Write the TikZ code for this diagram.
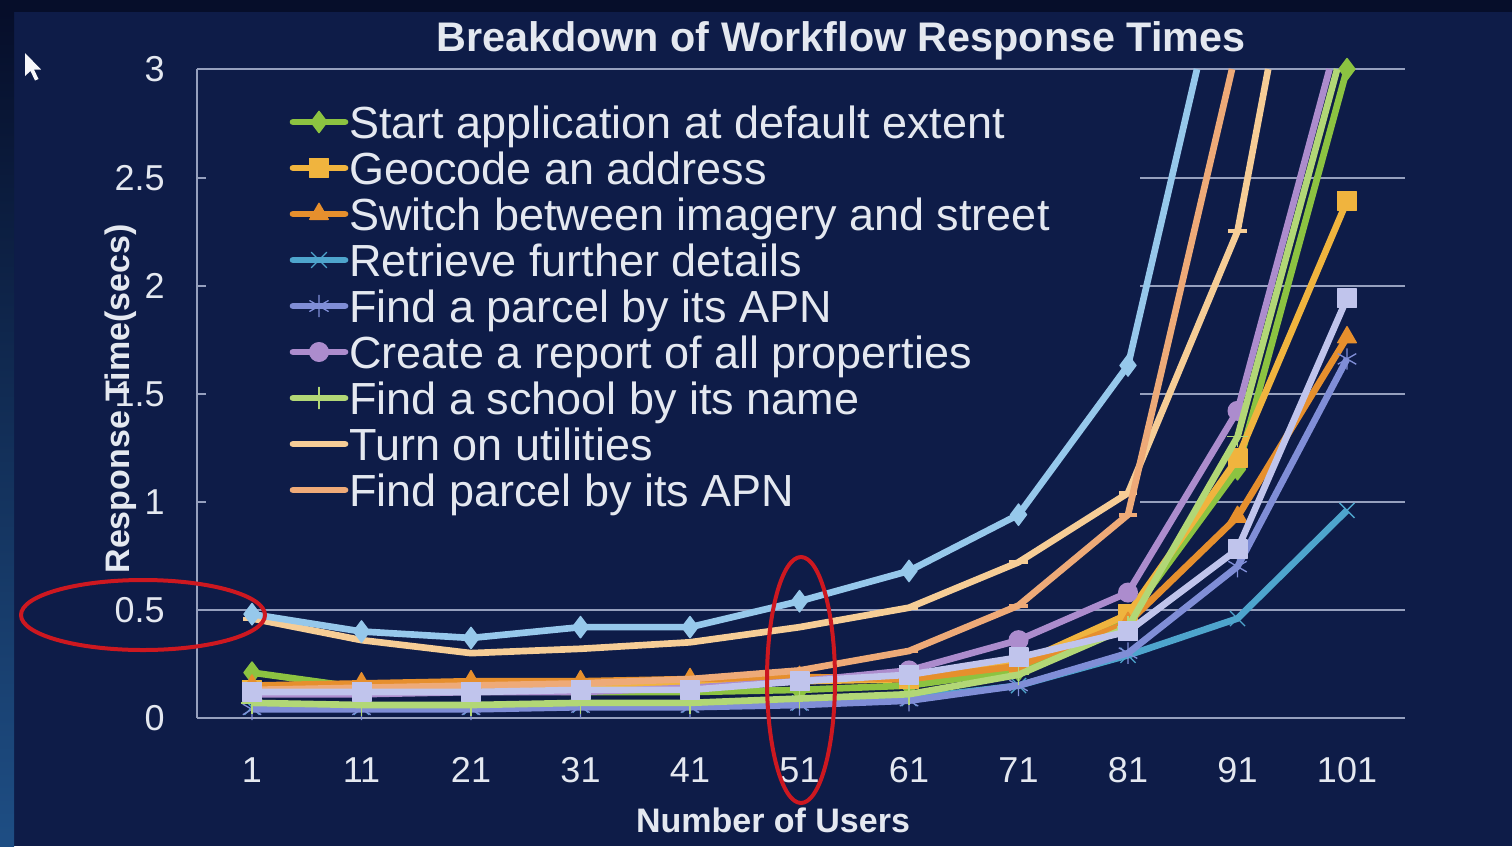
\documentclass[tikz,border=0pt]{standalone}
\usepackage{fontspec}
\setmainfont{Liberation Sans}
\usepackage{xcolor}
\usetikzlibrary{plotmarks}

\definecolor{slideBg}{RGB}{14,28,72}
\definecolor{slideTop}{RGB}{6,14,42}
\definecolor{slideEdge}{RGB}{30,78,132}
\definecolor{gridGrey}{RGB}{150,160,190}
\definecolor{labelWhite}{RGB}{228,232,240}
\definecolor{ringRed}{RGB}{205,24,32}
\definecolor{cStart}{RGB}{140,195,65}
\definecolor{cGeocode}{RGB}{240,180,62}
\definecolor{cSwitch}{RGB}{230,143,45}
\definecolor{cRetrieve}{RGB}{78,165,205}
\definecolor{cParcel}{RGB}{128,142,215}
\definecolor{cReport}{RGB}{172,140,205}
\definecolor{cSchool}{RGB}{178,215,118}
\definecolor{cUtil}{RGB}{246,205,150}
\definecolor{cApn}{RGB}{238,170,120}
\definecolor{cExtraA}{RGB}{150,200,235}
\definecolor{cExtraB}{RGB}{192,196,236}

\begin{document}
\begin{tikzpicture}[x=0.75pt,y=0.75pt,yscale=-1,
  gridline/.style={draw=gridGrey,line width=1.2pt},
  ticklabel/.style={text=labelWhite,font=\fontsize{27}{30}\selectfont,inner sep=0pt},
  axistitle/.style={text=labelWhite,font=\bfseries\fontsize{25.5}{28}\selectfont,inner sep=0pt},
  keytext/.style={text=labelWhite,font=\fontsize{33.75}{38}\selectfont,anchor=base west,inner sep=0pt},
  series/.style={line width=5pt,line join=round},
  lnStart/.style={series,draw=cStart,mark=diamond*,mark size=8pt,mark options={solid,line width=1pt,draw=cStart,fill=cStart}},
  lnGeocode/.style={series,draw=cGeocode,mark=square*,mark size=7pt,mark options={solid,line width=1pt,draw=cGeocode,fill=cGeocode}},
  lnSwitch/.style={series,draw=cSwitch,mark=triangle*,mark size=8pt,mark options={solid,yscale=-1,line width=1pt,draw=cSwitch,fill=cSwitch}},
  lnRetrieve/.style={series,draw=cRetrieve,mark=x,mark size=8pt,mark options={solid,line width=1pt,draw=cRetrieve}},
  lnParcel/.style={series,draw=cParcel,mark=asterisk,mark size=8pt,mark options={solid,line width=1pt,draw=cParcel}},
  lnReport/.style={series,draw=cReport,mark=*,mark size=7pt,mark options={solid,line width=1pt,draw=cReport,fill=cReport}},
  lnSchool/.style={series,draw=cSchool,mark=+,mark size=8pt,mark options={solid,line width=1pt,draw=cSchool}},
  lnUtil/.style={series,draw=cUtil,mark=-,mark size=7pt,mark options={solid,line width=3pt,draw=cUtil}},
  lnApn/.style={series,draw=cApn,mark=-,mark size=7pt,mark options={solid,line width=3pt,draw=cApn}},
  lnExtraA/.style={series,draw=cExtraA,mark=diamond*,mark size=8pt,mark options={solid,line width=1pt,draw=cExtraA,fill=cExtraA}},
  lnExtraB/.style={series,draw=cExtraB,mark=square*,mark size=7pt,mark options={solid,line width=1pt,draw=cExtraB,fill=cExtraB}},
  keyline/.style={line cap=round},
  ring/.style={draw=ringRed,line width=3pt}]
\useasboundingbox (0,0) rectangle (1512,846);

%Shape: Rectangle [slide background]
\fill[slideBg] (0,0) rectangle (1512,846);
\shade[top color=slideTop,bottom color=slideEdge] (0,12) rectangle (14,846);
\fill[slideTop] (0,0) rectangle (1512,12);

%Shape: Grid [horizontal lines and axis]
\draw[gridline] (197,69) -- (1405,69)(197,178) -- (1405,178)(197,286) -- (1405,286)(197,394) -- (1405,394)(197,502) -- (1405,502)(197,610) -- (1405,610)(197,718) -- (1405,718) ;
\draw[gridline] (197,69) -- (197,718) ;

%Shape: Rectangle [legend background]
\fill[slideBg] (206,84) rectangle (1140,512);

%Data lines
\begin{scope}[shift={(252,718)},x=82.125pt,y=-162.225pt]
\draw[lnStart] plot coordinates {(0,0.21) (1,0.14) (2,0.13) (3,0.12) (4,0.12) (5,0.13) (6,0.15) (7,0.22) (8,0.46) (9,1.15) (10,3.00)};
\draw[lnGeocode] plot coordinates {(0,0.13) (1,0.13) (2,0.14) (3,0.14) (4,0.15) (5,0.17) (6,0.18) (7,0.25) (8,0.48) (9,1.20) (10,2.39)};
\draw[lnSwitch] plot coordinates {(0,0.15) (1,0.16) (2,0.17) (3,0.17) (4,0.18) (5,0.19) (6,0.18) (7,0.24) (8,0.44) (9,0.93) (10,1.76)};
\draw[lnRetrieve] plot coordinates {(0,0.05) (1,0.05) (2,0.05) (3,0.06) (4,0.06) (5,0.07) (6,0.09) (7,0.15) (8,0.29) (9,0.46) (10,0.96)};
\draw[lnParcel] plot coordinates {(0,0.04) (1,0.04) (2,0.04) (3,0.05) (4,0.05) (5,0.06) (6,0.08) (7,0.15) (8,0.30) (9,0.70) (10,1.66)};
\draw[lnReport,mark indices={1,...,10}] plot coordinates {(0,0.11) (1,0.11) (2,0.12) (3,0.12) (4,0.14) (5,0.17) (6,0.22) (7,0.36) (8,0.58) (9,1.42) (9.84,3.00)};
\draw[lnSchool,mark indices={1,...,10}] plot coordinates {(0,0.07) (1,0.06) (2,0.06) (3,0.07) (4,0.07) (5,0.09) (6,0.11) (7,0.20) (8,0.42) (9,1.30) (9.91,3.00)};
\draw[lnUtil,mark indices={1,...,10}] plot coordinates {(0,0.46) (1,0.36) (2,0.30) (3,0.32) (4,0.35) (5,0.42) (6,0.51) (7,0.72) (8,1.04) (9,2.25) (9.28,3.00)};
\draw[lnApn,mark indices={1,...,9}] plot coordinates {(0,0.13) (1,0.14) (2,0.15) (3,0.16) (4,0.18) (5,0.22) (6,0.31) (7,0.52) (8,0.94) (8.95,3.00)};
\draw[lnExtraA,mark indices={1,...,9}] plot coordinates {(0,0.48) (1,0.40) (2,0.37) (3,0.42) (4,0.42) (5,0.54) (6,0.68) (7,0.94) (8,1.63) (8.63,3.00)};
\draw[lnExtraB] plot coordinates {(0,0.12) (1,0.12) (2,0.12) (3,0.13) (4,0.13) (5,0.17) (6,0.20) (7,0.28) (8,0.40) (9,0.78) (10,1.94)};
\end{scope}

%Legend samples
\draw[lnStart,keyline,mark indices={2}] plot coordinates {(293,122) (319,122) (345,122)};
\draw[lnGeocode,keyline,mark indices={2}] plot coordinates {(293,168) (319,168) (345,168)};
\draw[lnSwitch,keyline,mark indices={2}] plot coordinates {(293,214) (319,214) (345,214)};
\draw[lnRetrieve,keyline,mark indices={2}] plot coordinates {(293,260) (319,260) (345,260)};
\draw[lnParcel,keyline,mark indices={2}] plot coordinates {(293,306) (319,306) (345,306)};
\draw[lnReport,keyline,mark indices={2}] plot coordinates {(293,352) (319,352) (345,352)};
\draw[lnSchool,keyline,mark indices={2}] plot coordinates {(293,398) (319,398) (345,398)};
\draw[lnUtil,keyline,mark indices={2}] plot coordinates {(293,444) (319,444) (345,444)};
\draw[lnApn,keyline,mark indices={2}] plot coordinates {(293,490) (319,490) (345,490)};

% Text Node
\node[keytext] (keyStart) at (349,138) {Start application at default extent};
\node[keytext] (keyGeocode) at (349,184) {Geocode an address};
\node[keytext] (keySwitch) at (349,230) {Switch between imagery and street};
\node[keytext] (keyRetrieve) at (349,276) {Retrieve further details};
\node[keytext] (keyParcel) at (349,322) {Find a parcel by its APN};
\node[keytext] (keyReport) at (349,368) {Create a report of all properties};
\node[keytext] (keySchool) at (349,414) {Find a school by its name};
\node[keytext] (keyUtil) at (349,460) {Turn on utilities};
\node[keytext] (keyApn) at (349,506) {Find parcel by its APN};

% Text Node
\node[text=labelWhite,font=\bfseries\fontsize{31}{34}\selectfont,inner sep=0pt] (title) at (841,41) {Breakdown of Workflow Response Times};

% Text Node
\node[ticklabel,anchor=east] (yt30) at (165,69) {3};
\node[ticklabel,anchor=east] (yt25) at (165,178) {2.5};
\node[ticklabel,anchor=east] (yt20) at (165,286) {2};
\node[ticklabel,anchor=east] (yt15) at (165,394) {1.5};
\node[ticklabel,anchor=east] (yt10) at (165,502) {1};
\node[ticklabel,anchor=east] (yt05) at (165,610) {0.5};
\node[ticklabel,anchor=east] (yt00) at (165,718) {0};

% Text Node
\node[ticklabel] (xt1) at (252,770) {1};
\node[ticklabel] (xt11) at (361.5,770) {11};
\node[ticklabel] (xt21) at (471,770) {21};
\node[ticklabel] (xt31) at (580.5,770) {31};
\node[ticklabel] (xt41) at (690,770) {41};
\node[ticklabel] (xt51) at (799.5,770) {51};
\node[ticklabel] (xt61) at (909,770) {61};
\node[ticklabel] (xt71) at (1018.5,770) {71};
\node[ticklabel] (xt81) at (1128,770) {81};
\node[ticklabel] (xt91) at (1237.5,770) {91};
\node[ticklabel] (xt101) at (1347,770) {101};

% Text Node
\node[axistitle,rotate=90] (ytitle) at (121,399) {Response Time(secs)};
\node[axistitle] (xtitle) at (773,820) {Number of Users};

%Shape: Ellipse [red rings]
\draw[ring] (143,615) ellipse (122 and 35);
\draw[ring] (801,680) ellipse (34 and 123);

%Shape: Polygon [mouse pointer]
\fill[white!92!gridGrey] (25,53) -- (25,76) -- (30.5,71) -- (35,80.5) -- (38.5,79) -- (34,69.5) -- (41,69.5) -- cycle ;

\end{tikzpicture}
\end{document}
